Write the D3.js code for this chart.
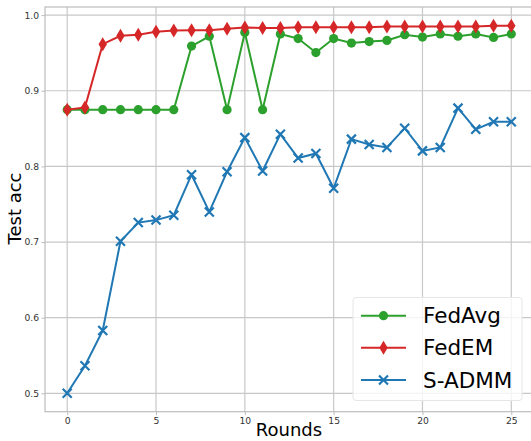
<!DOCTYPE html>
<html><head><meta charset="utf-8">
<script src="https://cdn.jsdelivr.net/npm/d3@7"></script>
<style>body{margin:0;background:#fff}svg{display:block}text{font-family:"DejaVu Sans",sans-serif}</style>
</head><body><svg id="c" width="531" height="441"></svg>
<script>
const rounds = d3.range(0, 26);
const fedAvg = [0.875,0.875,0.875,0.875,0.875,0.875,0.875,0.959,0.972,0.875,0.977,0.875,0.975,0.969,0.9505,0.969,0.963,0.965,0.9665,0.974,0.971,0.975,0.972,0.975,0.9705,0.975];
const fedEM = [0.875,0.878,0.9616,0.9726,0.974,0.978,0.9797,0.980,0.980,0.982,0.9836,0.983,0.983,0.984,0.984,0.984,0.984,0.984,0.985,0.985,0.985,0.985,0.985,0.985,0.986,0.986];
const sADMM = [0.5,0.5365,0.583,0.701,0.7257,0.729,0.7354,0.789,0.7398,0.793,0.838,0.794,0.8426,0.811,0.817,0.771,0.836,0.829,0.825,0.8505,0.8205,0.825,0.877,0.849,0.859,0.859];
const xTicks = [0,5,10,15,20,25];
const yTicks = [0.5,0.6,0.7,0.8,0.9,1.0];
const seriesNames = ["FedAvg","FedEM","S-ADMM"];
const colors = ["#2ca02c","#d62728","#1f77b4"];

const svg = d3.select("#c");
const L=45, R=533.5, T=7, B=411.7;
const x = d3.scaleLinear().domain([-1.25,26.25]).range([L,R]);
const y = d3.scaleLinear().domain([0.4757,1.0107]).range([B,T]);

// grid
const g = svg.append("g");
g.selectAll(".gx").data(xTicks).join("line").attr("x1",d=>x(d)).attr("x2",d=>x(d)).attr("y1",T).attr("y2",B).attr("stroke","#c8c8c8").attr("stroke-width",1.2);
g.selectAll(".gy").data(yTicks).join("line").attr("y1",d=>y(d)).attr("y2",d=>y(d)).attr("x1",L).attr("x2",R).attr("stroke","#c8c8c8").attr("stroke-width",1.2);
// spines
svg.append("rect").attr("x",L).attr("y",T).attr("width",R-L).attr("height",B-T).attr("fill","none").attr("stroke","#bdbdbd").attr("stroke-width",1.2);

// axes
const xa = svg.append("g").attr("transform",`translate(0,${B})`).call(d3.axisBottom(x).tickValues(xTicks).tickSize(3.5).tickPadding(2.5).tickFormat(d3.format("d")));
const ya = svg.append("g").attr("transform",`translate(${L},0)`).call(d3.axisLeft(y).tickValues(yTicks).tickSize(3.5).tickPadding(2.5).tickFormat(d3.format(".1f")));
[xa,ya].forEach(a=>{a.select(".domain").remove();a.selectAll("line").attr("stroke","#bdbdbd");a.selectAll("text").attr("font-size",9.2).attr("fill","#333").attr("font-family","DejaVu Sans");});

svg.append("text").attr("x",289).attr("y",436).attr("text-anchor","middle").attr("font-size",18).attr("fill","#000").text("Rounds");
svg.append("text").attr("transform",`translate(21,${208.5}) rotate(-90)`).attr("text-anchor","middle").attr("font-size",18).attr("fill","#000").text("Test acc");

const data = [fedAvg, fedEM, sADMM];
const line = d3.line().x((d,i)=>x(rounds[i])).y(d=>y(d));

function marker(sel, k, cx, cy){
  const c = colors[k];
  if(k===0){
    sel.append("circle").attr("cx",cx).attr("cy",cy).attr("r",4.6).attr("fill",c);
  } else if(k===1){
    sel.append("path").attr("d",`M${cx},${cy-7}L${cx+4.2},${cy}L${cx},${cy+7}L${cx-4.2},${cy}Z`).attr("fill",c);
  } else {
    const s=4.5;
    sel.append("path").attr("d",`M${cx-s},${cy-s}L${cx+s},${cy+s}M${cx-s},${cy+s}L${cx+s},${cy-s}`).attr("stroke",c).attr("stroke-width",2.2);
  }
}
const plot = svg.append("g");
data.forEach((arr,k)=>{
  const gg = plot.append("g");
  gg.append("path").datum(arr).attr("d",line).attr("fill","none").attr("stroke",colors[k]).attr("stroke-width",2);
  arr.forEach((v,i)=>marker(gg,k,x(rounds[i]),y(v)));
});

// legend
const lg = svg.append("g");
lg.append("rect").attr("x",353).attr("y",297.5).attr("width",169).attr("height",103).attr("rx",3).attr("fill","#fff").attr("fill-opacity",0.8).attr("stroke","#e6e6e6");
const ly = [315.7,347.7,380];
seriesNames.forEach((n,k)=>{
  lg.append("line").attr("x1",361).attr("x2",406).attr("y1",ly[k]).attr("y2",ly[k]).attr("stroke",colors[k]).attr("stroke-width",2);
  marker(lg,k,383.5,ly[k]);
  lg.append("text").attr("x",423).attr("y",ly[k]).attr("dy","0.36em").attr("font-size",21.5).attr("fill","#000").text(n);
});
</script></body></html>
